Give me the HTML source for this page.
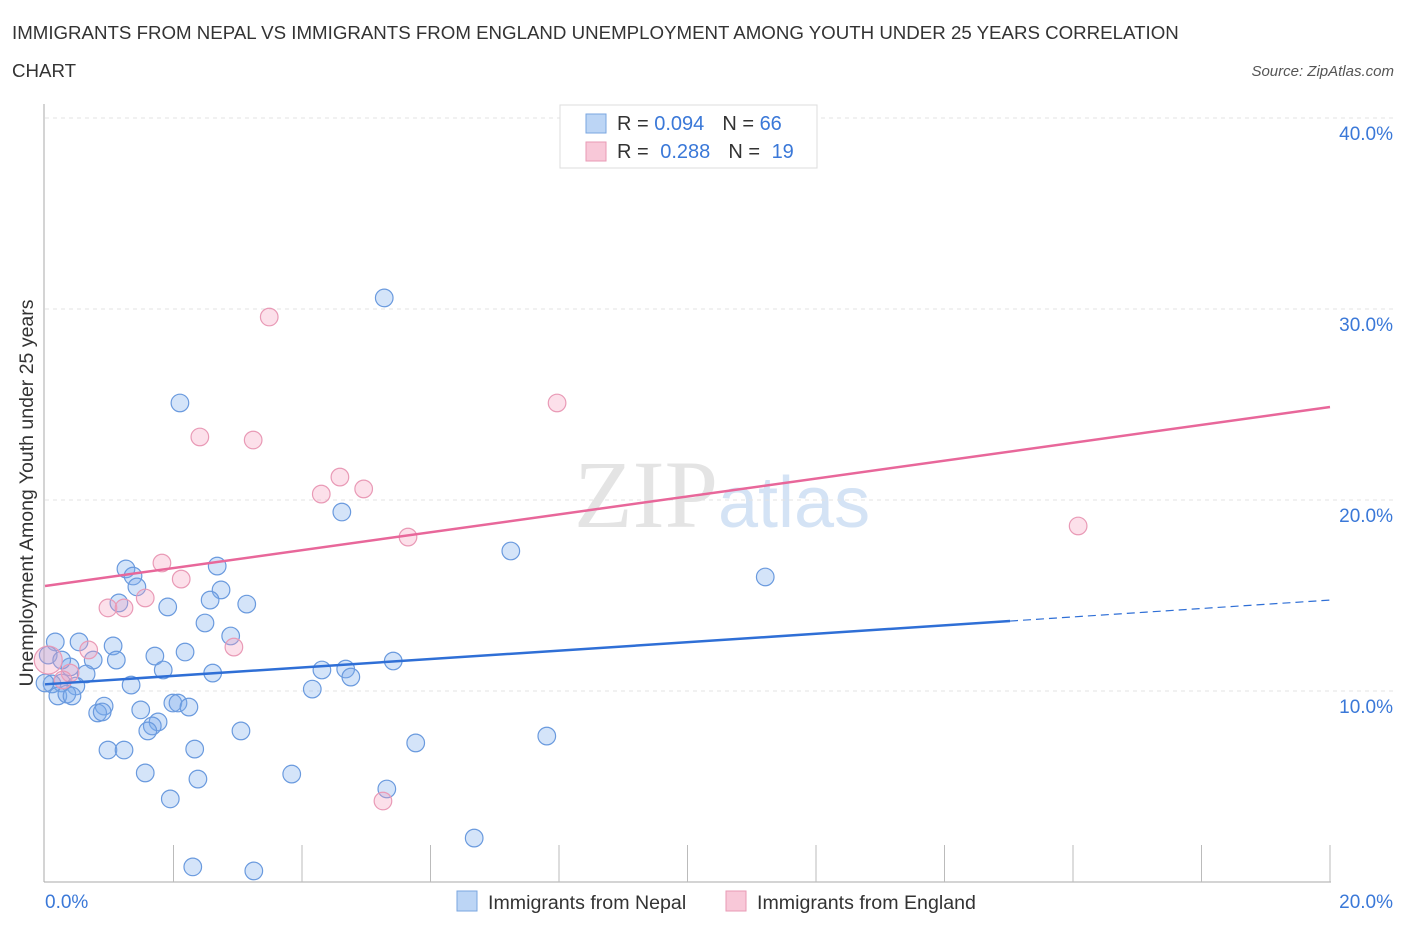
<!DOCTYPE html>
<html><head><meta charset="utf-8"><style>
body{margin:0;background:#fff;font-family:"Liberation Sans",sans-serif;}
svg{display:block}
</style></head><body>
<svg id="chart" width="1406" height="930">
<text x="12" y="39" font-size="18.7" fill="#333">IMMIGRANTS FROM NEPAL VS IMMIGRANTS FROM ENGLAND UNEMPLOYMENT AMONG YOUTH UNDER 25 YEARS CORRELATION</text>
<text x="12" y="77" font-size="18.7" fill="#333">CHART</text>
<text x="1394" y="76" font-size="15" fill="#555" font-style="italic" text-anchor="end">Source: ZipAtlas.com</text>
<text x="33" y="493" font-size="19.5" fill="#333" text-anchor="middle" transform="rotate(-90 33 493)">Unemployment Among Youth under 25 years</text>
<text x="718" y="527" font-size="96" fill="#e4e4e4" text-anchor="end" font-family="Liberation Serif,serif">ZIP</text>
<text x="718" y="527" font-size="72" fill="#d4e3f5">atlas</text>
<g id="grid"></g><g id="marks"></g>
<g>
<rect x="560" y="105" width="257" height="63" fill="#fff" stroke="#ddd"/>
<rect x="586" y="114" width="20" height="19" fill="#bcd5f5" stroke="#7aa6e0"/>
<rect x="586" y="142" width="20" height="19" fill="#f8c8d8" stroke="#e89ab5"/>
<text x="617" y="130" font-size="20" fill="#333">R = <tspan fill="#3a78d8">0.094</tspan><tspan dx="18">N = </tspan><tspan fill="#3a78d8">66</tspan></text>
<text x="617" y="158" font-size="20" fill="#333">R = <tspan fill="#3a78d8" dx="6">0.288</tspan><tspan dx="18">N = </tspan><tspan fill="#3a78d8" dx="6">19</tspan></text>
</g>
<g>
<rect x="457" y="891" width="20" height="20" fill="#bcd5f5" stroke="#7aa6e0"/>
<text x="488" y="909" font-size="19.6" fill="#333">Immigrants from Nepal</text>
<rect x="726" y="891" width="20" height="20" fill="#f8c8d8" stroke="#e89ab5"/>
<text x="757" y="909" font-size="19.6" fill="#333">Immigrants from England</text>
</g>
</svg>
<script>
const nepalX=[5.28,2.10,4.62,7.25,11.21,1.26,1.37,2.68,1.43,2.74,1.15,1.91,2.57,3.14,2.49,2.89,0.16,0.53,1.06,0.75,1.11,1.71,2.18,0.39,0.64,0.11,0.26,0.48,1.34,1.84,2.61,4.16,4.31,4.68,4.76,5.42,0.20,0.34,0.42,0.92,0.82,0.89,1.49,1.76,1.67,1.60,1.99,2.07,2.24,3.05,0.98,1.23,2.33,5.77,7.81,1.56,2.38,3.84,1.95,5.32,6.68,2.30,3.25,0.05,0.0,0.26];
const nepalY=[30.58,25.08,19.37,17.33,15.97,16.39,16.02,16.54,15.45,15.29,14.61,14.40,14.76,14.55,13.56,12.88,12.57,12.57,12.36,11.62,11.62,11.83,12.04,11.26,10.89,10.37,10.42,10.26,10.31,11.10,10.94,10.10,11.10,11.15,10.73,11.57,9.74,9.84,9.74,9.21,8.85,8.90,9.01,8.38,8.17,7.91,9.37,9.37,9.16,7.91,6.91,6.91,6.96,7.28,7.64,5.71,5.39,5.65,4.35,4.87,2.30,0.79,0.58,11.88,10.42,11.62];
const englandX=[3.49,7.97,2.41,3.24,4.59,4.30,4.96,5.65,1.82,2.12,1.56,0.98,1.23,0.68,2.94,0.39,0.28,5.26,16.08,0.05];
const englandY=[29.58,25.08,23.30,23.14,21.20,20.31,20.58,18.06,16.70,15.86,14.87,14.35,14.35,12.15,12.30,10.94,10.58,4.24,18.64,11.62];
const nepalLine=[10.35,14.76], englandLine=[15.50,24.87];
const yTicks=[10,20,30,40];
const ns="http://www.w3.org/2000/svg";
const X=v=>45+v/20*1285, Y=v=>882-v*19.1;
const grid=document.getElementById('grid'), marks=document.getElementById('marks');
function mk(t,a,p){const e=document.createElementNS(ns,t);for(const k in a)e.setAttribute(k,a[k]);p.appendChild(e);return e;}
yTicks.forEach(t=>{
 const l=mk('line',{x1:45,x2:1395,y1:Y(t),y2:Y(t),stroke:'#e3e3e3','stroke-dasharray':'4,4'},grid);
 
 
 const tx=mk('text',{x:1393,y:Y(t)+22,'font-size':19,fill:'#3a78d8','text-anchor':'end'},grid);
 tx.textContent=t.toFixed(1)+'%';
 
 
});
mk('line',{x1:44,x2:44,y1:104,y2:882,stroke:'#aaa'},grid);
mk('line',{x1:44,x2:1331,y1:882,y2:882,stroke:'#aaa'},grid);
for(let i=1;i<=10;i++){mk('line',{x1:X(i*2),x2:X(i*2),y1:845,y2:882,stroke:'#bbb'},grid);}
const xl0=mk('text',{x:45,y:908,'font-size':19,fill:'#3a78d8'},grid);xl0.textContent='0.0%';


const xl1=mk('text',{x:1393,y:908,'font-size':19,fill:'#3a78d8','text-anchor':'end'},grid);xl1.textContent='20.0%';


nepalX.forEach((x,i)=>{const c=mk('circle',{cx:X(x),cy:Y(nepalY[i]),r:8.8,fill:'rgba(120,170,235,0.32)',stroke:'#6a9ade','stroke-width':1.2},marks);
 
 });
englandX.forEach((x,i)=>{const c=mk('circle',{cx:X(x),cy:Y(englandY[i]),r:i==19?14:8.8,fill:'rgba(245,160,190,0.32)',stroke:'#e99ab6','stroke-width':1.2},marks);
 
 });
const ly=x=>nepalLine[0]+(nepalLine[1]-nepalLine[0])*x/20;
const b1=mk('line',{x1:X(0),y1:Y(ly(0)),x2:X(15.02),y2:Y(ly(15.02)),stroke:'#2f6fd6','stroke-width':2.5},marks);


mk('line',{x1:X(15.02),y1:Y(ly(15.02)),x2:X(20),y2:Y(ly(20)),stroke:'#2f6fd6','stroke-width':1.2,'stroke-dasharray':'8,5'},marks);
const p1=mk('line',{x1:X(0),y1:Y(englandLine[0]),x2:X(20),y2:Y(englandLine[1]),stroke:'#e8679a','stroke-width':2.5},marks);


</script>
</body></html>
